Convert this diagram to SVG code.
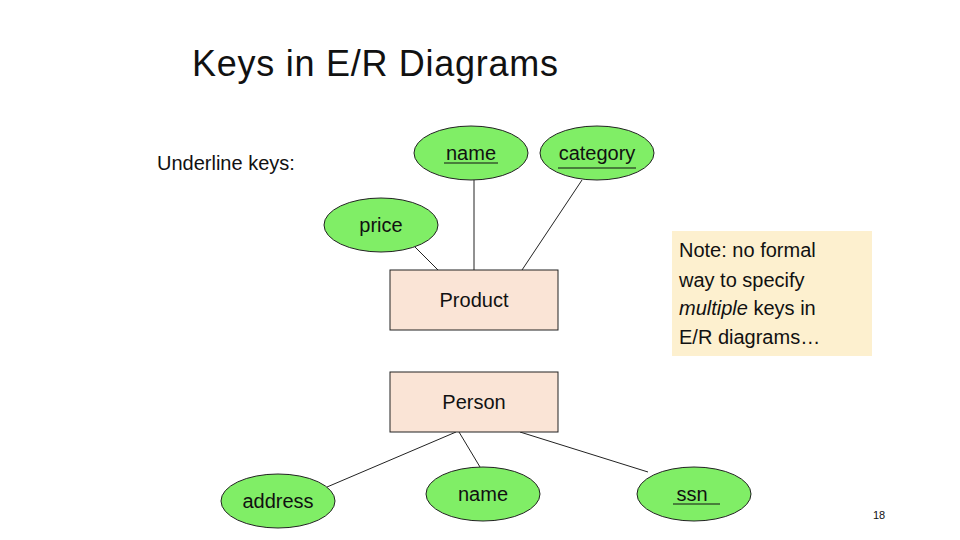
<svg xmlns="http://www.w3.org/2000/svg" width="960" height="540" viewBox="0 0 960 540">
<style>
text{font-family:"Liberation Sans","DejaVu Sans",sans-serif;fill:#111}
.at{fill:#80ee66;stroke:#222;stroke-width:1}
.en{fill:#fae4d6;stroke:#222;stroke-width:1}
.c line{stroke:#222;stroke-width:1}
.l{font-size:20px;text-anchor:middle}
</style>
<rect width="960" height="540" fill="#fff"/>
<text x="192" y="76" font-size="36" textLength="366">Keys in E/R Diagrams</text>
<text x="157" y="170" font-size="20">Underline keys:</text>
<g class="c">
<line x1="415" y1="247" x2="438" y2="270"/>
<line x1="474" y1="180" x2="474" y2="270"/>
<line x1="582" y1="180" x2="522" y2="270"/>
<line x1="327" y1="487" x2="456" y2="432"/>
<line x1="459" y1="432" x2="480" y2="467"/>
<line x1="520" y1="432" x2="648" y2="472"/>
</g>
<g id="name1"><ellipse class="at" cx="471" cy="153" rx="57" ry="27"/><text class="l" x="471" y="160">name</text><line x1="444" y1="163" x2="498" y2="163" stroke="#111"/></g>
<g id="category"><ellipse class="at" cx="597" cy="153" rx="57" ry="27"/><text class="l" x="597" y="160">category</text><line x1="558" y1="168" x2="636" y2="168" stroke="#111"/></g>
<g id="price"><ellipse class="at" cx="381" cy="225" rx="57" ry="27"/><text class="l" x="381" y="232">price</text></g>
<g id="product"><rect class="en" x="390" y="270" width="168" height="60"/><text class="l" x="474" y="307">Product</text></g>
<g id="note"><rect x="672" y="231" width="200" height="125" fill="#fdf0cf"/>
<text font-size="20" x="679" y="257">Note: no formal</text>
<text font-size="20" x="679" y="287">way to specify</text>
<text font-size="20" x="679" y="315"><tspan font-style="italic">multiple</tspan> keys in</text>
<text font-size="20" x="679" y="344">E/R diagrams…</text></g>
<g id="person"><rect class="en" x="390" y="372" width="168" height="60"/><text class="l" x="474" y="409">Person</text></g>
<g id="address"><ellipse class="at" cx="278" cy="501" rx="57" ry="27"/><text class="l" x="278" y="508">address</text></g>
<g id="name2"><ellipse class="at" cx="483" cy="494" rx="57" ry="27"/><text class="l" x="483" y="501">name</text></g>
<g id="ssn"><ellipse class="at" cx="694" cy="494" rx="57" ry="27"/><text class="l" x="692" y="501">ssn</text><line x1="673" y1="504" x2="720" y2="504" stroke="#111"/></g>
<text x="873" y="519" font-size="11">18</text>
</svg>
